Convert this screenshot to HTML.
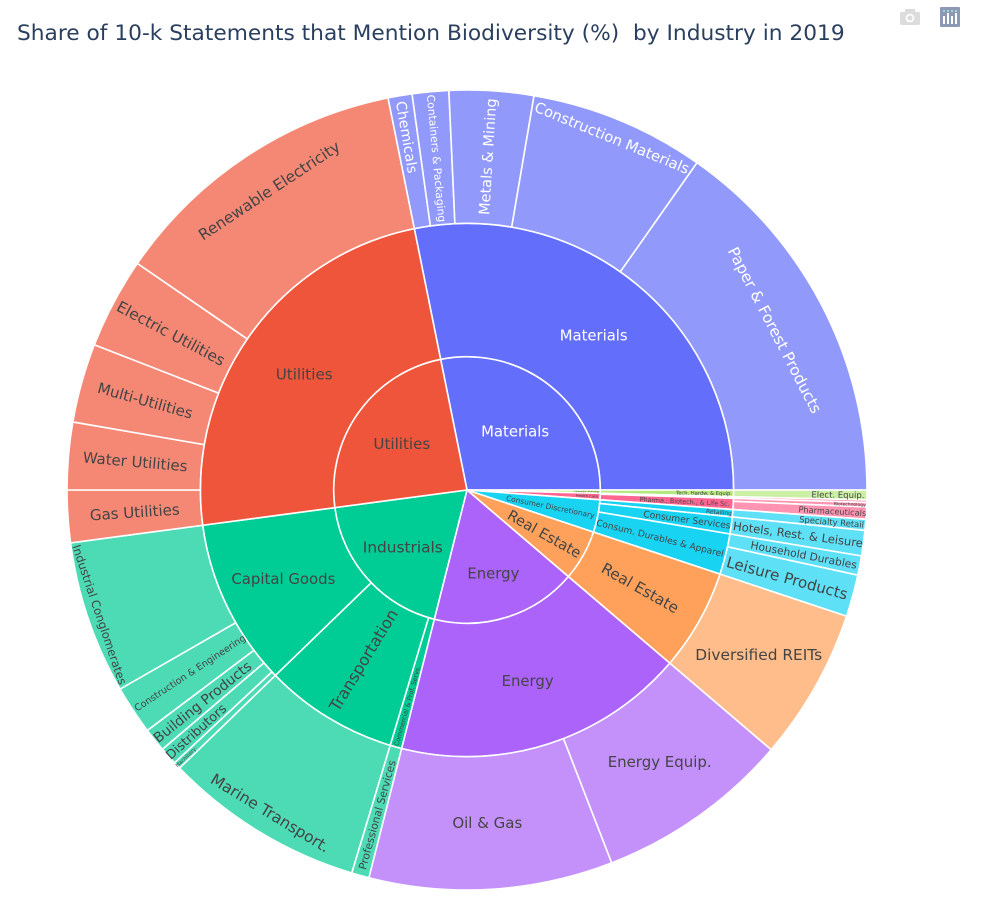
<!DOCTYPE html>
<html lang="en">
<head>
<meta charset="utf-8">
<title>Share of 10-k Statements that Mention Biodiversity</title>
<style>
html,body{margin:0;padding:0;background:#fff;}
svg{display:block;font-family:"DejaVu Sans","Liberation Sans",sans-serif;}
</style>
</head>
<body>
<svg id="chart" xmlns="http://www.w3.org/2000/svg" width="982" height="902" viewBox="0 0 982 902">
  <rect x="0" y="0" width="982" height="902" fill="#fff"/>
  <text id="chart-title" x="17" y="40" fill="#2a3f5f" font-size="20" style="white-space:pre">Share of 10-k Statements that Mention Biodiversity (%)  by Industry in 2019</text>
  <g>
    <rect x="900" y="12" width="20" height="13" rx="1.5" fill="#dcdcdc"/>
    <rect x="905" y="9" width="10" height="4" fill="#dcdcdc"/>
    <circle cx="910" cy="18" r="4.4" fill="#fff"/>
    <circle cx="910" cy="18" r="2.6" fill="#dcdcdc"/>
  </g>
  <g>
    <rect x="940" y="7" width="20" height="20" rx="1" fill="#8c99b4"/>
    <rect x="943" y="16" width="2" height="8" fill="#fff"/>
    <rect x="947" y="13" width="2" height="11" fill="#fff"/>
    <rect x="951" y="16" width="2" height="8" fill="#fff"/>
    <rect x="955" y="13" width="2" height="11" fill="#fff"/>
    <circle cx="944" cy="11" r="1" fill="#a8e6d8"/>
    <circle cx="948" cy="11" r="1" fill="#a8e6d8"/>
    <circle cx="952" cy="11" r="1" fill="#a8e6d8"/>
    <circle cx="956" cy="11" r="1" fill="#a8e6d8"/>
  </g>
  <g id="wedges"></g>
  <g id="labels"></g>
</svg>
<script>
// ---- chart data ----
const sectors = ["Materials","Information Technology","Health Care","Consumer Discretionary","Real Estate","Energy","Industrials","Utilities"];
const groups = ["Materials","Tech. Hardw. & Equip.","Health Care Equip.","Pharma., Biotech., & Life Sc.","Retailing","Consumer Services","Consum. Durables & Apparel","Real Estate","Energy","Commercial & Prof. Servs.","Transportation","Capital Goods","Utilities"];
const groupSector = ["Materials","Information Technology","Health Care","Health Care","Consumer Discretionary","Consumer Discretionary","Consumer Discretionary","Real Estate","Energy","Industrials","Industrials","Industrials","Utilities"];
const leaves = ["Chemicals","Containers & Packaging","Metals & Mining","Construction Materials","Paper & Forest Products","Elect. Equip.","Health Care Supplies","Biotechnology","Pharmaceuticals","Specialty Retail","Hotels, Rest. & Leisure","Household Durables","Leisure Products","Diversified REITs","Energy Equip.","Oil & Gas","Professional Services","Marine Transport.","Machinery","Distributors","Building Products","Construction & Engineering","Industrial Conglomerates","Gas Utilities","Water Utilities","Multi-Utilities","Electric Utilities","Renewable Electricity"];
const leafGroup = ["Materials","Materials","Materials","Materials","Materials","Tech. Hardw. & Equip.","Health Care Equip.","Pharma., Biotech., & Life Sc.","Pharma., Biotech., & Life Sc.","Retailing","Consumer Services","Consum. Durables & Apparel","Consum. Durables & Apparel","Real Estate","Energy","Energy","Commercial & Prof. Servs.","Transportation","Capital Goods","Capital Goods","Capital Goods","Capital Goods","Capital Goods","Utilities","Utilities","Utilities","Utilities","Utilities"];
const leafValues = [3.5,5.3,12.25,25.45,54.9,1.43,0.37,0.63,1.77,1.6,3.7,2.8,6.1,22.1,28.3,35.4,2.55,29.2,1.05,2.6,3.45,7.1,22.25,7.6,9.8,11.5,13.2,44.1];

// ---- presentation config ----
const sectorColor = {"Materials":"#636efa","Information Technology":"#b6e880","Health Care":"#ff6692","Consumer Discretionary":"#19d3f3","Real Estate":"#ffa15a","Energy":"#ab63fa","Industrials":"#00cc96","Utilities":"#ef553b"};
const CX = 467, CY = 490, RING = 133.33, START = -11.4;
// orientation (h horizontal, r radial, t tangential), label radius, text length
const labelLayoutOuter = {
 "Chemicals":["r",358,73],"Containers & Packaging":["r",333,128],"Metals & Mining":["r",334,117],
 "Construction Materials":["t",381,166],"Paper & Forest Products":["t",347,185],"Elect. Equip.":["r",371,53],
 "Biotechnology":["r",383,32],"Pharmaceuticals":["r",366,68],"Specialty Retail":["r",366,65],
 "Hotels, Rest. & Leisure":["r",334,131],"Household Durables":["r",343,108],"Leisure Products":["r",332,125],
 "Diversified REITs":["h",335,127],"Energy Equip.":["h",333,104],"Oil & Gas":["h",333,70],
 "Professional Services":["r",337,113],"Marine Transport.":["t",378,136],"Machinery":["r",388,26],
 "Distributors":["r",363,76],"Building Products":["r",339,121],"Construction & Engineering":["r",332,131],
 "Industrial Conglomerates":["t",388,147],"Gas Utilities":["r",333,90],"Water Utilities":["r",333,105],
 "Multi-Utilities":["r",334,98],"Electric Utilities":["r",335,120],"Renewable Electricity":["t",359,166]
};
const labelLayoutMiddle = {
 "Materials":["h",200,68],"Tech. Hardw. & Equip.":["r",237,56],"Pharma., Biotech., & Life Sc.":["r",218,90],
 "Retailing":["r",253,26],"Consumer Services":["r",222,88],"Consum. Durables & Apparel":["r",199,131],
 "Real Estate":["r",199,86],"Energy":["h",200,52],"Commercial & Prof. Servs.":["r",224,83],
 "Transportation":["r",199,116],"Capital Goods":["h",204,104],"Utilities":["h",200,57]
};
const labelLayoutInner = {
 "Materials":["h",76,68],"Information Technology":["r",120,25],"Health Care":["r",120,22],
 "Consumer Discretionary":["r",85,90],"Real Estate":["r",89,82],"Energy":["h",87,52],
 "Industrials":["h",86,80],"Utilities":["h",80,57]
};

// ---- scales & helpers ----
const SVGNS = "http://www.w3.org/2000/svg";
const wedgeLayer = document.getElementById("wedges");
const labelLayer = document.getElementById("labels");
const totalValue = leafValues.reduce(function(a,b){return a+b;},0);
function angleScale(v){ return v / totalValue * 360; }
function polar(r, deg){
  const a = deg * Math.PI / 180;
  return [CX + r * Math.sin(a), CY - r * Math.cos(a)];
}
function wedgePath(r0, r1, a0, a1){
  const large = (a1 - a0) > 180 ? 1 : 0;
  const p1 = polar(r1, a0), p2 = polar(r1, a1);
  let d = "M" + p1[0] + " " + p1[1] + "A" + r1 + " " + r1 + " 0 " + large + " 1 " + p2[0] + " " + p2[1];
  if (r0 > 0) {
    const p3 = polar(r0, a1), p4 = polar(r0, a0);
    d += "L" + p3[0] + " " + p3[1] + "A" + r0 + " " + r0 + " 0 " + large + " 0 " + p4[0] + " " + p4[1];
  } else {
    d += "L" + CX + " " + CY;
  }
  return d + "Z";
}
function slug(s){ return s.toLowerCase().replace(/[^a-z0-9]+/g,"-").replace(/^-|-$/g,""); }
function drawWedge(name, level, r0, r1, a0, a1, color, opacity){
  const p = document.createElementNS(SVGNS,"path");
  p.setAttribute("d", wedgePath(r0,r1,a0,a1));
  p.setAttribute("fill", color);
  p.setAttribute("fill-opacity", opacity);
  p.setAttribute("stroke", "#fff");
  p.setAttribute("stroke-width", "1.6");
  
  
  wedgeLayer.appendChild(p);
}
function drawLabel(name, level, spec, a0, a1, color){
  if (!spec) return;
  const mid = (a0 + a1) / 2;
  const pos = polar(spec[1], mid);
  let rot = 0;
  if (spec[0] === "r") rot = mid - 90;
  if (spec[0] === "t") rot = mid;
  rot = (((rot + 90) % 180) + 180) % 180 - 90;
  const t = document.createElementNS(SVGNS,"text");
  t.textContent = name;
  t.setAttribute("text-anchor","middle");
  t.setAttribute("dy","0.36em");
  t.setAttribute("x", pos[0]);
  t.setAttribute("y", pos[1]);
  t.setAttribute("fill", color);
  t.setAttribute("font-size","10");
  t.setAttribute("transform","rotate(" + rot + " " + pos[0] + " " + pos[1] + ")");
  
  
  labelLayer.appendChild(t);
  const w = t.getComputedTextLength();
  if (w > 0) t.setAttribute("font-size", (10 * spec[2] / w).toFixed(2));
}
function textColor(sector){ return sector === "Materials" ? "#fff" : "#444"; }

// ---- build the hierarchy from the data arrays ----
function extentsBy(keys, keyOf){
  const out = {};
  let acc = START;
  leafValues.forEach(function(v,i){
    const k = keyOf(i);
    const w = angleScale(v);
    if (!out[k]) out[k] = [acc, acc + w];
    else out[k][1] = acc + w;
    acc += w;
  });
  return out;
}
const groupExtent = extentsBy(groups, function(i){ return leafGroup[i]; });
const sectorExtent = extentsBy(sectors, function(i){ return groupSector[groups.indexOf(leafGroup[i])]; });

sectors.forEach(function(s){
  const e = sectorExtent[s];
  drawWedge(s, "inner", 0, RING, e[0], e[1], sectorColor[s], 1);
});
groups.forEach(function(g,i){
  const e = groupExtent[g], s = groupSector[i];
  drawWedge(g, "middle", RING, RING*2, e[0], e[1], sectorColor[s], 1);
});
let cursor = START;
leaves.forEach(function(l,i){
  const w = angleScale(leafValues[i]);
  const s = groupSector[groups.indexOf(leafGroup[i])];
  drawWedge(l, "outer", RING*2, RING*3, cursor, cursor + w, sectorColor[s], 0.7);
  drawLabel(l, "outer", labelLayoutOuter[l], cursor, cursor + w, textColor(s));
  cursor += w;
});
groups.forEach(function(g,i){
  const e = groupExtent[g];
  drawLabel(g, "middle", labelLayoutMiddle[g], e[0], e[1], textColor(groupSector[i]));
});
sectors.forEach(function(s){
  const e = sectorExtent[s];
  drawLabel(s, "inner", labelLayoutInner[s], e[0], e[1], textColor(s));
});

// fit the title to its measured width
const titleEl = document.getElementById("chart-title");
const titleW = titleEl.getComputedTextLength();
if (titleW > 0) titleEl.setAttribute("font-size", (20 * 828 / titleW).toFixed(2));
</script>
</body>
</html>
